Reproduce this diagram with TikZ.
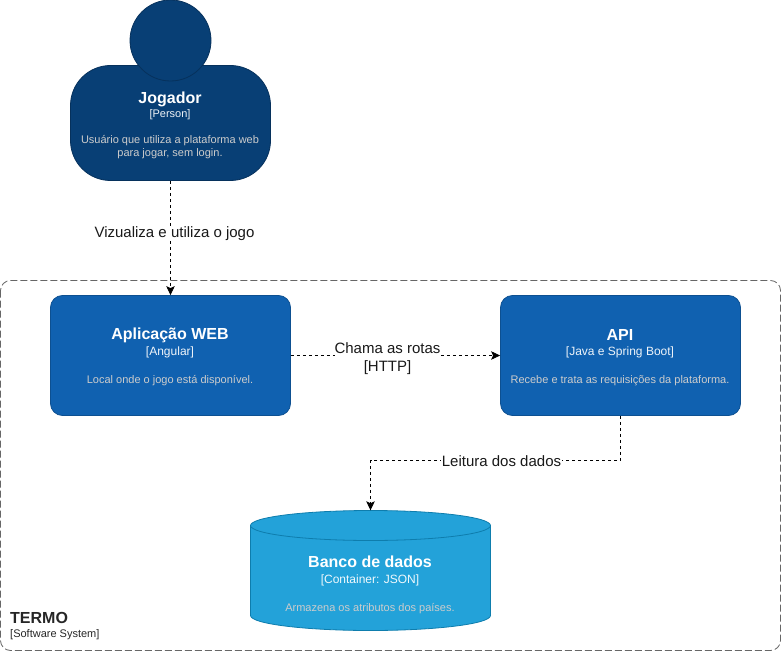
\documentclass[tikz,border=0pt]{standalone}
\usepackage{fontspec}
\setmainfont{Liberation Sans}
\usetikzlibrary{arrows.meta}
\definecolor{perfill}{HTML}{083F75}
\definecolor{perline}{HTML}{06315C}
\definecolor{confill}{HTML}{1061B0}
\definecolor{conline}{HTML}{0D5091}
\definecolor{dbfill}{HTML}{23A2D9}
\definecolor{dbline}{HTML}{0E7DAD}
\definecolor{bound}{HTML}{666666}
\definecolor{desc}{HTML}{CCCCCC}
\tikzset{
  x=1pt,y=-1pt,
  box/.style={rectangle,draw=conline,fill=confill,line width=0.8pt,rounded corners=12pt,minimum width=240pt,minimum height=120pt,inner sep=0pt},
  bodybox/.style={rectangle,draw=perline,fill=perfill,line width=0.8pt,rounded corners=40pt,minimum width=200pt,minimum height=115pt,inner sep=0pt},
  headc/.style={circle,draw=perline,fill=perfill,line width=0.8pt,minimum size=81pt,inner sep=0pt},
  ttl/.style={text=white,font=\bfseries\fontsize{16}{18}\selectfont,inner sep=0pt,anchor=center},
  sub/.style={text=white,font=\fontsize{12}{14}\selectfont,inner sep=0pt,anchor=center,opacity=.93},
  dsc/.style={text=desc,font=\fontsize{11}{13.2}\selectfont,inner sep=0pt,anchor=center,align=center},
  lbl/.style={fill=white,font=\fontsize{15}{18}\selectfont,align=center,inner sep=1pt,text=black!90},
  rel/.style={draw=black,line width=0.75pt,dash pattern=on 3pt off 3pt,-{Stealth[length=9pt,width=8.5pt,inset=2pt]}}
}
\begin{document}
\begin{tikzpicture}
\useasboundingbox (0,0) rectangle (781,652);
\draw[bound,line width=0.8pt,dash pattern=on 7pt off 3pt,rounded corners=10pt] (0.5,280.5) rectangle (780.5,650.5);
\node[bodybox] (body) at (170.5,123) {};
\node[headc] (head) at (170.5,40.5) {};
\node[ttl] (t1) at (170,99) {Jogador};
\node[sub,font=\fontsize{11}{13}\selectfont] (s1) at (170,114.5) {[Person]};
\node[dsc] (d1) at (170,147) {Usuário que utiliza a plataforma web\\para jogar, sem login.};
\node[box] (web) at (170.5,355.5) {};
\node[ttl] (t2) at (170,335) {Aplicação WEB};
\node[sub] (s2) at (170,352) {[Angular]};
\node[dsc] (d2) at (170,380.5) {Local onde o jogo está disponível.};
\node[box] (api) at (620.5,355.5) {};
\node[ttl] (t3) at (620,335) {API};
\node[sub] (s3) at (620,352) {[Java e Spring Boot]};
\node[dsc] (d3) at (620,380.5) {Recebe e trata as requisições da plataforma.};
\path[draw=dbline,fill=dbfill,line width=0.8pt] (250.5,525.5) arc[x radius=120,y radius=-15,start angle=180,end angle=0] -- (490.5,615.5) arc[x radius=120,y radius=15,start angle=0,end angle=180] -- cycle;
\path[draw=dbline,line width=0.8pt] (250.5,525.5) arc[x radius=120,y radius=15,start angle=180,end angle=0];
\node[minimum width=240pt,minimum height=120pt,inner sep=0pt] (db) at (370.5,570.5) {};
\node[ttl] (t4) at (370,562) {Banco de dados};
\node[sub] (s4) at (370,580) {[Container: JSON]};
\node[dsc] (d4) at (370,608.5) {Armazena os atributos dos países.};
\node[text=black!85,font=\bfseries\fontsize{16}{18}\selectfont,inner sep=0pt,anchor=west] (t5) at (10,618) {TERMO};
\node[text=black!85,font=\fontsize{11}{13}\selectfont,inner sep=0pt,anchor=west] (s5) at (10,634.5) {[Software System]};
\draw[rel] (body.south) -- (web.north);
\node[lbl] (l1) at (174.5,233.5) {Vizualiza e utiliza o jogo};
\draw[rel] (web.east) -- (api.west);
\node[lbl,inner sep=0pt] (l2) at (387.5,358.5) {Chama as rotas\\{[HTTP]}};
\coordinate (e1) at (620.5,460.5);
\coordinate (e2) at (370.5,460.5);
\draw[rel] (api.south) -- (e1) -- (e2) -- (db.north);
\node[lbl] (l3) at (501.5,461.5) {Leitura dos dados};
\end{tikzpicture}
\end{document}
